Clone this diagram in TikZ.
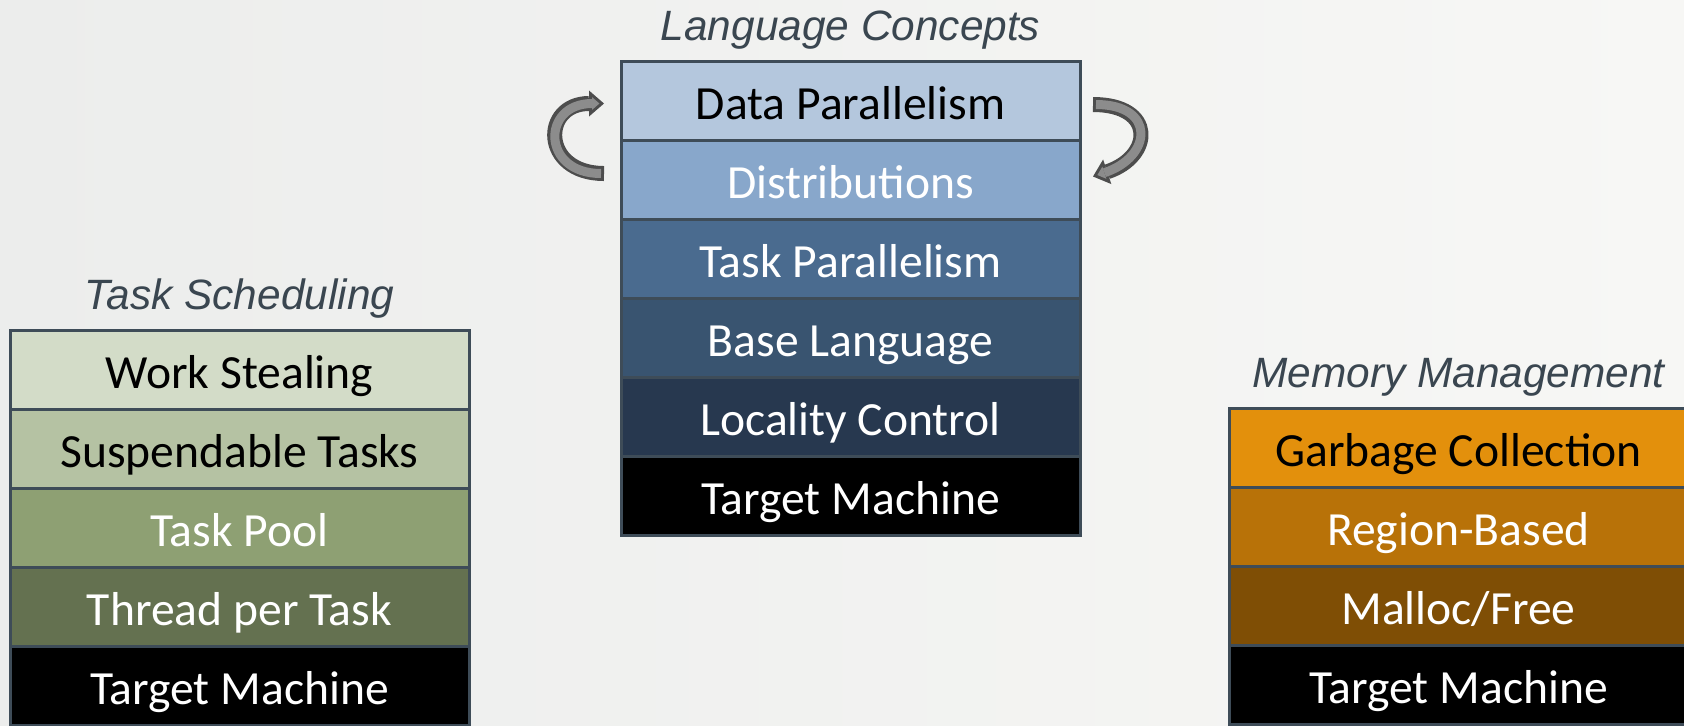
\documentclass[tikz,border=0pt]{standalone}
\usepackage{fontspec}
\setmainfont{Carlito}
\newfontfamily\capfont{Liberation Sans}
\usepackage{tikz}
\usetikzlibrary{positioning,arrows.meta}

\definecolor{edge}{RGB}{62,76,88}
\definecolor{captext}{RGB}{58,70,80}
\definecolor{loopfill}{RGB}{140,140,140}
\definecolor{loopedge}{RGB}{77,77,77}
\definecolor{bgleft}{RGB}{236,237,236}
\definecolor{bgright}{RGB}{247,247,245}

\tikzset{
  layer/.style={draw=edge, line width=1.5pt, minimum width=229.5pt, minimum height=39.5pt,
    inner sep=0pt, outer sep=0pt, text=white, text height=20pt, text depth=1.5pt,
    font=\fontsize{23.8}{26}\selectfont},
  stacktitle/.style={inner sep=0pt, text=captext, font=\capfont\itshape\fontsize{21.2}{24}\selectfont},
  loopout/.style={draw=loopedge, line width=7.5pt,
    -{Triangle[length=7.5pt,width=13pt,line width=0pt]}},
  loopin/.style={draw=loopfill, line width=4.5pt, shorten <=1.5pt, shorten >=2.3pt,
    -{Triangle[length=3.7pt,width=6.4pt,line width=0pt]}}
}

\begin{document}
\begin{tikzpicture}[x=0.5pt,y=0.5pt]

\useasboundingbox (0,0) rectangle (1684,-725);
\fill[left color=bgleft, right color=bgright] (0,0) rectangle (1684,-725);

% language concepts
\definecolor{dpc}{RGB}{180,199,221}
\definecolor{dic}{RGB}{136,167,203}
\definecolor{tkc}{RGB}{74,107,143}
\definecolor{blc}{RGB}{57,84,112}
\definecolor{lcc}{RGB}{39,56,79}
\node[layer, fill=dpc, text=black, anchor=north west] (data) at (621,-61) {Data Parallelism};
\node[layer, fill=dic, below=0pt of data] (dist) {Distributions};
\node[layer, fill=tkc, below=0pt of dist] (taskp) {Task Parallelism};
\node[layer, fill=blc, below=0pt of taskp] (base) {Base Language};
\node[layer, fill=lcc, below=0pt of base] (loc) {Locality Control};
\node[layer, fill=black, below=0pt of loc] (tmc) {Target Machine};
\node[stacktitle, above=5.5pt of data] (lang) {Language Concepts};

% task scheduling
\definecolor{wsc}{RGB}{211,220,200}
\definecolor{stc}{RGB}{181,194,163}
\definecolor{tpc}{RGB}{142,160,115}
\definecolor{ttc}{RGB}{100,113,80}
\node[layer, fill=wsc, text=black, anchor=north west] (steal) at (10,-330) {Work Stealing};
\node[layer, fill=stc, text=black, below=0pt of steal] (susp) {Suspendable Tasks};
\node[layer, fill=tpc, below=0pt of susp] (pool) {Task Pool};
\node[layer, fill=ttc, below=0pt of pool] (thread) {Thread per Task};
\node[layer, fill=black, below=0pt of thread] (tml) {Target Machine};
\node[stacktitle, above=5.5pt of steal] (sched) {Task Scheduling};

% memory management
\definecolor{gcc}{RGB}{227,144,12}
\definecolor{rbc}{RGB}{184,114,8}
\definecolor{mfc}{RGB}{127,78,5}
\node[layer, fill=gcc, text=black, anchor=north west] (gc) at (1229,-408) {Garbage Collection};
\node[layer, fill=rbc, below=0pt of gc] (region) {Region-Based};
\node[layer, fill=mfc, below=0pt of region] (malloc) {Malloc/Free};
\node[layer, fill=black, below=0pt of malloc] (tmr) {Target Machine};
\node[stacktitle, above=5.5pt of gc] (mem) {Memory Management};

% loops beside the top two layers
\draw[loopout] ([shift={(-17,6)}]dist.west) .. controls +(-63,0) and +(-63,0) .. ([shift={(-17,-3)}]data.west);
\draw[loopin] ([shift={(-17,6)}]dist.west) .. controls +(-63,0) and +(-63,0) .. ([shift={(-17,-3)}]data.west);
\draw[loopout] ([shift={(13,-4)}]data.east) .. controls +(63,0) and +(60,20) .. ([shift={(13,3)}]dist.east);
\draw[loopin] ([shift={(13,-4)}]data.east) .. controls +(63,0) and +(60,20) .. ([shift={(13,3)}]dist.east);

\end{tikzpicture}
\end{document}
